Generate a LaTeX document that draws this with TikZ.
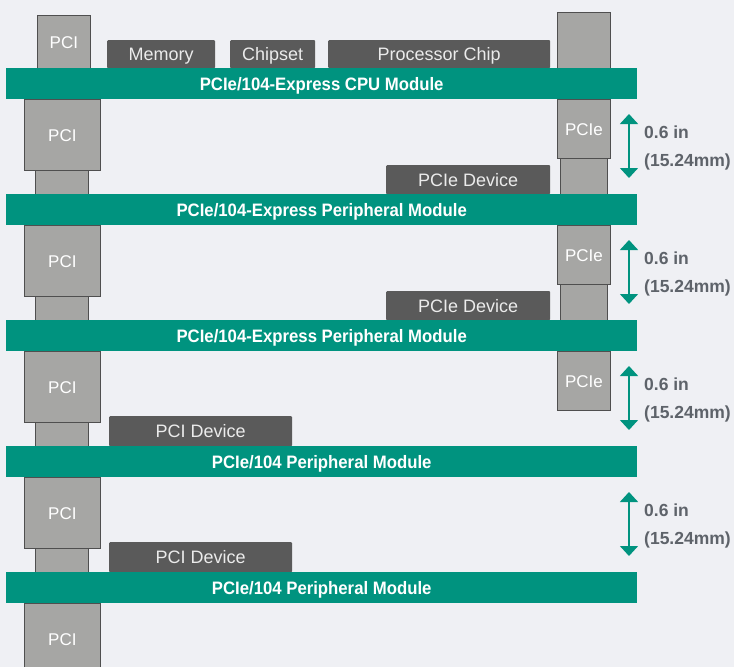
\documentclass[tikz,border=0pt]{standalone}
\usepackage{fontspec}
\setmainfont{Liberation Sans}
\newfontfamily\condfont[FakeStretch=0.93]{Liberation Sans}
\usetikzlibrary{arrows.meta}
\definecolor{bgc}{HTML}{EFF0F4}
\definecolor{boardc}{HTML}{00937F}
\definecolor{connc}{HTML}{A6A6A4}
\definecolor{connline}{HTML}{4F4F4F}
\definecolor{chipc}{HTML}{5A5A5A}
\definecolor{dimtext}{HTML}{5E636A}
\begin{document}
\begin{tikzpicture}[x=1pt,y=-1pt,
 board/.style={fill=boardc, draw=none, anchor=north west, minimum width=631pt, minimum height=31pt, inner sep=0pt, text=white, font=\condfont\bfseries\fontsize{18}{20}\selectfont, text height=12.9pt, text depth=0pt},
 conn/.style={fill=connc, draw=connline, line width=0.8pt, anchor=north west, inner sep=0pt, text=white, font=\fontsize{17}{20}\selectfont, text height=12.2pt, text depth=0pt},
 chip/.style={fill=chipc, draw=none, anchor=north west, inner sep=0pt, text=white!92!black, font=\fontsize{18}{20}\selectfont, rounded corners=1pt, text height=12.9pt, text depth=0pt},
 dimarrow/.style={draw=boardc, line width=1.5pt, {Triangle[width=18pt,length=10pt]}-{Triangle[width=18pt,length=10pt]}},
 dimlabel/.style={anchor=west, inner sep=0pt, text=dimtext, font=\bfseries\fontsize{17.5}{20}\selectfont, text height=12.5pt, text depth=0pt}
]
\useasboundingbox (0,0) rectangle (734,667);
\fill[bgc] (0,0) rectangle (734,667);

% left PCI connectors
\node[conn, minimum width=53pt, minimum height=53pt] (ltop) at (37,15) {PCI};
\foreach \k in {0,...,4}{
  \node[conn, minimum width=76pt, minimum height=71pt] (lbig\k) at (24,{99+126*\k}) {PCI};
}
\foreach \k in {0,...,3}{
  \node[conn, minimum width=53pt, minimum height=24pt] (lstem\k) at (35,{170+126*\k}) {};
}
% right PCIe connectors
\node[conn, minimum width=53pt, minimum height=56pt] (rtop) at (557,12) {};
\foreach \k in {0,...,2}{
  \node[conn, minimum width=53pt, minimum height=59pt] (rbig\k) at (557,{99+126*\k}) {PCIe};
}
\foreach \k in {0,...,1}{
  \node[conn, minimum width=47pt, minimum height=36pt] (rstem\k) at (560,{158+126*\k}) {};
}

% chips
\node[chip, minimum width=108pt, minimum height=28pt] (mem) at (107,40) {Memory};
\node[chip, minimum width=85pt, minimum height=28pt] (chipset) at (230,40) {Chipset};
\node[chip, minimum width=222pt, minimum height=28pt] (proc) at (328,40) {Processor Chip};
\node[chip, minimum width=164pt, minimum height=29pt] (pcied1) at (386,165) {PCIe Device};
\node[chip, minimum width=164pt, minimum height=29pt] (pcied2) at (386,291) {PCIe Device};
\node[chip, minimum width=183pt, minimum height=30pt] (pcid1) at (109,416) {PCI Device};
\node[chip, minimum width=183pt, minimum height=30pt] (pcid2) at (109,542) {PCI Device};

% boards
\node[board] (b0) at (6,68) {PCIe/104-Express CPU Module};
\node[board] (b1) at (6,194) {PCIe/104-Express Peripheral Module};
\node[board] (b2) at (6,320) {PCIe/104-Express Peripheral Module};
\node[board] (b3) at (6,446) {PCIe/104 Peripheral Module};
\node[board] (b4) at (6,572) {PCIe/104 Peripheral Module};

% dimension arrows
\foreach \k in {0,...,3}{
  \coordinate (at\k) at (629,{114+126*\k});
  \coordinate (ab\k) at (629,{178+126*\k});
  \draw[dimarrow] (at\k) -- (ab\k);
  \node[dimlabel] (d\k a) at (644,{132+126*\k}) {0.6 in};
  \node[dimlabel] (d\k b) at (644,{160+126*\k}) {(15.24mm)};
}
\end{tikzpicture}
\end{document}
